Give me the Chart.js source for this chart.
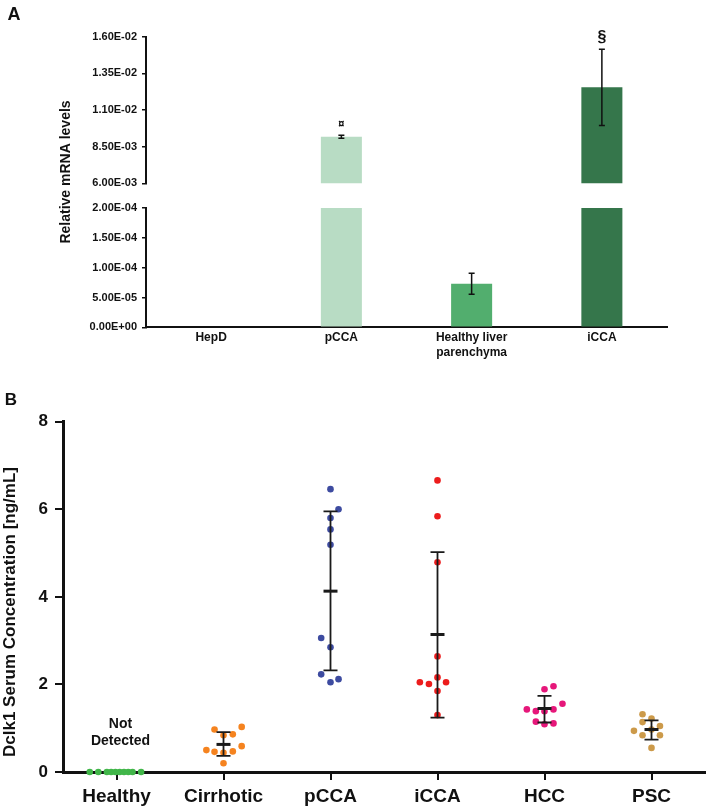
<!DOCTYPE html>
<html>
<head>
<meta charset="utf-8">
<script src="https://cdn.jsdelivr.net/npm/chart.js@4.4.0/dist/chart.umd.min.js"></script>
<style>
  html, body { margin: 0; padding: 0; background: #fff; }
  #wrap { position: relative; width: 709px; height: 812px; }
  #wrap canvas { position: absolute; left: 0; top: 0; }
</style>
</head>
<body>
<div id="wrap">
  <canvas id="aTop" width="709" height="812"></canvas>
  <canvas id="aBottom" width="709" height="812"></canvas>
  <canvas id="bChart" width="709" height="812"></canvas>
</div>
<script>
// Panel A - relative mRNA levels (broken y axis)
const tissues = ['HepD', 'pCCA', ['Healthy liver', 'parenchyma'], 'iCCA'];
const mrna = [0, 9.18e-3, 7.3e-5, 1.255e-2];
const mrnaErr = [0, 1.0e-4, 1.75e-5, 2.6e-3];
const mrnaMarks = ['', '¤', '', '§'];
const tissueColors = ['#b8dcc4', '#b8dcc4', '#52ae6e', '#35764b'];
const upperTicks = [6.0e-3, 8.5e-3, 1.1e-2, 1.35e-2, 1.6e-2];
const lowerTicks = [0, 5.0e-5, 1.0e-4, 1.5e-4, 2.0e-4];

// Panel B - serum Dclk1 per group (dx = horizontal spread)
const groups = ['Healthy', 'Cirrhotic', 'pCCA', 'iCCA', 'HCC', 'PSC'];
const groupColors = ['#41b649', '#f5831f', '#3d4ba0', '#ec1c1c', '#e6177a', '#cc9a4a'];
const healthy = [0, 0, 0, 0, 0, 0, 0, 0, 0, 0];
const healthyDx = [-0.25, -0.17, -0.09, -0.05, -0.01, 0.03, 0.07, 0.11, 0.15, 0.23];
const cirrhotic = [0.50, 0.97, 0.84, 0.86, 1.03, 0.46, 0.44, 0.47, 0.59, 0.20];
const cirrhoticDx = [-0.16, -0.084, 0, 0.087, 0.17, -0.084, 0, 0.087, 0.17, 0];
const pcca = [6.46, 6.00, 5.80, 5.54, 5.19, 3.06, 2.85, 2.23, 2.05, 2.12];
const pccaDx = [0, 0.075, 0, 0, 0, -0.087, 0, -0.087, 0, 0.075];
const icca = [6.66, 5.84, 4.79, 2.64, 2.05, 2.01, 2.16, 2.05, 1.85, 1.30];
const iccaDx = [0, 0, 0, 0, -0.165, -0.08, 0, 0.08, 0, 0];
const hcc = [1.89, 1.96, 1.43, 1.39, 1.39, 1.43, 1.56, 1.15, 1.09, 1.11];
const hccDx = [0, 0.084, -0.165, -0.081, 0, 0.084, 0.168, -0.081, 0, 0.084];
const psc = [1.32, 1.22, 1.14, 1.05, 0.94, 0.84, 0.84, 0.55, 0.97];
const pscDx = [-0.084, 0, -0.084, 0.079, -0.164, -0.084, 0.079, 0, 0];
const groupMean = [null, 0.63, 4.13, 3.14, 1.45, 0.97];
const sdHigh = [null, 0.91, 5.95, 5.02, 1.74, 1.18];
const sdLow = [null, 0.37, 2.32, 1.24, 1.13, 0.74];
const serumTicks = [0, 2, 4, 6, 8];

const FONT = "'Liberation Sans', Arial, sans-serif";
const INK = '#111';

function sci(v) {
    const [m, e] = v.toExponential(2).split('e');
    const sign = e[0] === '-' ? '-' : '+';
    return m + 'E' + sign + e.replace(/[+-]/, '').padStart(2, '0');
}

function bold(size) {
    return { family: FONT, size: size, weight: 'bold' };
}

function aAxis(min, max, ticks) {
    return {
        min: min,
        max: max,
        afterBuildTicks: s => { s.ticks = ticks.map(v => ({ value: v })); },
        afterFit: s => { s.width = 146; },
        ticks: { callback: v => sci(v), font: bold(11), color: INK, padding: 5 },
        grid: { drawOnChartArea: false, tickLength: 4, color: INK, lineWidth: 1.5 },
        border: { color: INK, width: 2 }
    };
}

// error bars + significance marks, upper or lower half of the broken axis
const aBars = which => ({
    id: 'aBars',
    afterDatasetsDraw(chart) {
        const { ctx, scales: { x, y } } = chart;
        ctx.save();
        ctx.strokeStyle = INK;
        ctx.fillStyle = INK;
        ctx.lineWidth = 1.5;
        mrna.forEach((v, i) => {
            if (!mrnaErr[i]) return;
            if ((v > upperTicks[0]) !== (which === 'top')) return;
            const cx = x.getPixelForValue(i);
            const hi = y.getPixelForValue(v + mrnaErr[i]);
            const lo = y.getPixelForValue(v - mrnaErr[i]);
            ctx.beginPath();
            ctx.moveTo(cx, hi); ctx.lineTo(cx, lo);
            ctx.moveTo(cx - 3, hi); ctx.lineTo(cx + 3, hi);
            ctx.moveTo(cx - 3, lo); ctx.lineTo(cx + 3, lo);
            ctx.stroke();
            if (mrnaMarks[i]) {
                const big = mrnaMarks[i] === '§';
                ctx.font = `bold ${big ? 16 : 11}px ${FONT}`;
                ctx.textAlign = 'center';
                ctx.textBaseline = 'middle';
                ctx.fillText(mrnaMarks[i], cx, hi - (big ? 12 : 11));
            }
        });
        ctx.restore();
    }
});

const aText = {
    id: 'aText',
    afterDraw(chart) {
        const ctx = chart.ctx;
        ctx.save();
        ctx.fillStyle = INK;
        ctx.textAlign = 'center';
        ctx.textBaseline = 'middle';
        ctx.font = `bold 18px ${FONT}`;
        ctx.fillText('A', 14, 15);
        ctx.translate(66, 172);
        ctx.rotate(-Math.PI / 2);
        ctx.font = `bold 14px ${FONT}`;
        ctx.fillText('Relative mRNA levels', 0, 0);
        ctx.restore();
    }
};

const common = {
    responsive: false,
    animation: false,
    devicePixelRatio: 1,
    events: [],
    plugins: { legend: { display: false }, tooltip: { enabled: false } }
};

new Chart(document.getElementById('aTop'), {
    type: 'bar',
    data: {
        labels: tissues,
        datasets: [{
            data: mrna.map(v => v > upperTicks[0] ? v : null),
            backgroundColor: tissueColors,
            barPercentage: 0.315,
            categoryPercentage: 1
        }]
    },
    options: {
        ...common,
        layout: { padding: { top: 36.7, bottom: 812 - 183.3, left: 0, right: 42 } },
        scales: {
            x: { display: false },
            y: aAxis(upperTicks[0], upperTicks[upperTicks.length - 1], upperTicks)
        }
    },
    plugins: [aBars('top')]
});

new Chart(document.getElementById('aBottom'), {
    type: 'bar',
    data: {
        labels: tissues,
        datasets: [{
            data: mrna.map(v => Math.min(v, lowerTicks[lowerTicks.length - 1])),
            backgroundColor: tissueColors,
            barPercentage: 0.315,
            categoryPercentage: 1
        }]
    },
    options: {
        ...common,
        layout: { padding: { top: 208, bottom: 812 - 327.3 - 40, left: 0, right: 42 } },
        scales: {
            x: {
                afterFit: s => { s.height = 40; },
                ticks: { font: { ...bold(12), lineHeight: 1.25 }, color: INK, padding: 3, maxRotation: 0, autoSkip: false },
                grid: { display: false, drawTicks: false },
                border: { color: INK, width: 2 }
            },
            y: aAxis(lowerTicks[0], lowerTicks[lowerTicks.length - 1], lowerTicks)
        }
    },
    plugins: [aBars('bottom'), aText]
});

// Panel B
const serumSets = [
    [healthy, healthyDx], [cirrhotic, cirrhoticDx], [pcca, pccaDx],
    [icca, iccaDx], [hcc, hccDx], [psc, pscDx]
];

const bDecor = {
    id: 'bDecor',
    afterDatasetsDraw(chart) {
        const { ctx, scales: { x, y } } = chart;
        ctx.save();
        ctx.strokeStyle = '#1a1a1a';
        groupMean.forEach((m, i) => {
            if (m === null) return;
            const cx = x.getPixelForValue(i);
            const hi = y.getPixelForValue(sdHigh[i]);
            const lo = y.getPixelForValue(sdLow[i]);
            const my = y.getPixelForValue(m);
            ctx.lineWidth = 1.8;
            ctx.beginPath();
            ctx.moveTo(cx, hi); ctx.lineTo(cx, lo);
            ctx.moveTo(cx - 7, hi); ctx.lineTo(cx + 7, hi);
            ctx.moveTo(cx - 7, lo); ctx.lineTo(cx + 7, lo);
            ctx.stroke();
            ctx.lineWidth = 3;
            ctx.beginPath();
            ctx.moveTo(cx - 7, my); ctx.lineTo(cx + 7, my);
            ctx.stroke();
        });
        ctx.restore();
    },
    afterDraw(chart) {
        const { ctx, scales: { x, y } } = chart;
        ctx.save();
        ctx.fillStyle = INK;
        ctx.textAlign = 'center';
        ctx.textBaseline = 'middle';
        ctx.font = `bold 14px ${FONT}`;
        const nx = x.getPixelForValue(0) + 4;
        const ny = y.getPixelForValue(0);
        ctx.fillText('Not', nx, ny - 48);
        ctx.fillText('Detected', nx, ny - 31);
        ctx.font = `bold 17px ${FONT}`;
        ctx.fillText('B', 11, 400);
        ctx.translate(10, 612);
        ctx.rotate(-Math.PI / 2);
        ctx.fillText('Dclk1 Serum Concentration [ng/mL]', 0, 0);
        ctx.restore();
    }
};

new Chart(document.getElementById('bChart'), {
    type: 'scatter',
    data: {
        datasets: serumSets.map(([vals, dx], i) => ({
            data: vals.map((v, k) => ({ x: i + dx[k], y: v })),
            backgroundColor: groupColors[i],
            borderWidth: 0,
            pointRadius: 3.3,
            clip: false
        }))
    },
    options: {
        ...common,
        layout: { padding: { top: 421.7, bottom: 0, left: 0, right: 3 } },
        scales: {
            x: {
                type: 'linear',
                min: -0.5,
                max: groups.length - 0.5,
                afterBuildTicks: s => { s.ticks = groups.map((g, i) => ({ value: i })); },
                afterFit: s => { s.height = 40; },
                ticks: { callback: v => groups[Math.round(v)], autoSkip: false, maxRotation: 0, font: bold(19), color: INK, padding: 5 },
                grid: { drawOnChartArea: false, tickLength: 8, color: INK, lineWidth: 2 },
                border: { color: INK, width: 3 }
            },
            y: {
                min: serumTicks[0],
                max: serumTicks[serumTicks.length - 1],
                afterBuildTicks: s => { s.ticks = serumTicks.map(v => ({ value: v })); },
                afterFit: s => { s.width = 63; },
                ticks: { font: bold(17), color: INK, padding: 7 },
                grid: { drawOnChartArea: false, tickLength: 8, color: INK, lineWidth: 2 },
                border: { color: INK, width: 3 }
            }
        }
    },
    plugins: [bDecor]
});
</script>
</body>
</html>
